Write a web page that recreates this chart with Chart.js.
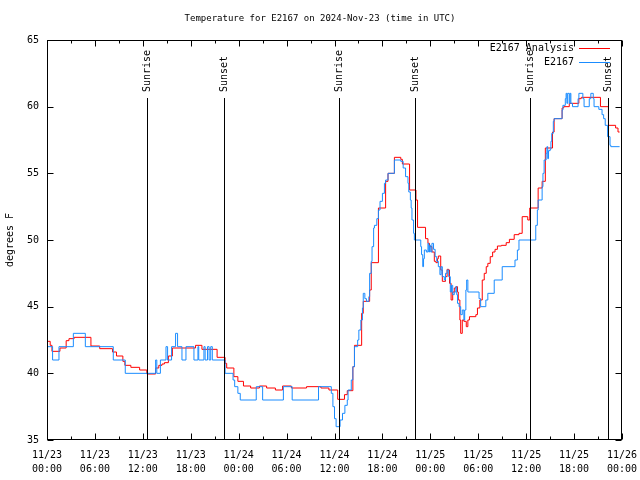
<!DOCTYPE html>
<html>
<head>
<meta charset="utf-8">
<title>Temperature for E2167</title>
<script src="https://cdn.jsdelivr.net/npm/chart.js@4.4.1/dist/chart.umd.min.js"></script>
<style>
  html, body { margin: 0; padding: 0; background: #fff; }
</style>
</head>
<body>
<canvas id="chart" width="640" height="480"></canvas>
<script>
// hours since 11/23 00:00 UTC and temperatures (F)
const analysisHours = [
  0, 0.4, 0.62, 1.62, 2.4, 2.75, 3.4, 5.5, 6.6, 8.2, 8.7, 9.5, 9.75, 10.5, 11.6, 12.5,
  13.6, 14.0, 14.4, 14.7, 15.2, 15.7, 18.6, 19.4, 21.3, 22.3, 22.5, 23.4, 23.9, 24.6, 25.5,
  26.6, 27.5, 28.6, 29.5, 30.6, 32.5, 34.3, 35.3, 36.4, 37.25, 37.6, 38.3, 38.5, 39.4, 39.6, 40.4, 40.6, 41.5, 42.4, 42.7,
  43.5, 44.3, 44.5, 45.4, 46.2, 46.4, 47.4, 47.7, 47.9, 48.2, 48.5, 48.7, 48.9, 49.0, 49.3, 49.5, 49.9, 50.1, 50.3, 50.4,
  50.6, 50.8, 51.0, 51.2, 51.4, 51.5, 51.7, 51.8, 52.0, 52.2, 52.5, 52.7, 52.9, 53.7, 53.9, 54.2, 54.5, 54.75, 55.0, 55.2,
  55.5, 55.8, 56.1, 56.4, 56.9, 57.5, 57.9, 58.5, 59.1, 59.5, 60.2, 60.45, 61.5, 62.0, 62.4, 63.3, 63.5, 64.5, 64.7, 65.4,
  66.6, 66.9, 69.3, 70.3, 71.2, 71.5, 71.7
];
const analysisTemps = [
  42.4, 42.1, 41.65, 41.9, 42.45, 42.6, 42.7, 42.05, 41.85, 41.6, 41.3, 40.9, 40.6, 40.45, 40.25, 39.95,
  40.4, 40.6, 40.7, 40.8, 41.3, 41.9, 42.1, 41.8, 41.2, 40.75, 40.4, 39.75, 39.4, 39.05, 38.9,
  39.05, 38.9, 38.75, 39.05, 38.9, 39.0, 38.9, 38.75, 38.05, 38.4, 38.7, 40.5, 42.1, 44.5, 45.4, 46.25, 48.3, 52.4, 54.4, 55.0,
  56.2, 56.05, 55.7, 53.75, 53.0, 50.95, 50.1, 49.75, 49.5, 49.1, 48.4, 48.3, 48.6, 48.8, 47.75, 46.9, 47.25, 47.8, 47.75, 46.75,
  45.5, 46.1, 46.4, 46.5, 46.1, 45.5, 44.0, 43.0, 44.0, 43.9, 43.5, 44.0, 44.25, 44.4, 44.9, 45.5, 47.0, 47.5, 48.0, 48.25,
  48.75, 49.1, 49.3, 49.55, 49.6, 49.8, 50.05, 50.4, 50.5, 51.75, 51.5, 52.4, 53.9, 54.4, 56.9, 58.1, 59.1, 59.9, 60.0, 60.25,
  60.6, 60.7, 60.0, 58.6, 58.4, 58.1, 58.1
];
const sensorHours = [
  0, 0.7, 1.5, 3.3, 4.8, 8.3, 9.8, 13.6, 13.75, 14.2, 14.9, 15.1, 15.6, 16.1, 16.35, 16.9, 17.4, 18.4, 18.9, 19.0,
  19.65, 19.8, 20.1, 20.3, 20.5, 20.7, 22.3, 23.3, 23.5, 23.9, 24.2, 26.2, 27.0, 29.6, 30.7, 34.0, 35.6, 35.8, 36.0, 36.2,
  36.7, 37.0, 37.3, 37.6, 37.7, 38.1, 38.3, 38.5, 38.9, 39.05, 39.3, 39.5, 39.6, 39.8, 40.0, 40.3, 40.4, 40.6, 40.7, 40.9,
  41.0, 41.3, 41.5, 41.7, 42.0, 42.25, 42.4, 42.7, 43.5, 44.3, 44.6, 44.9, 45.2, 45.3, 45.5, 45.6, 45.7, 45.9, 46.0, 46.8,
  46.9, 47.05, 47.15, 47.25, 47.5, 47.7, 47.8, 47.9, 48.05, 48.2, 48.4, 48.6, 48.8, 49.0, 49.2, 49.35, 49.5, 49.75, 49.9, 50.1,
  50.3, 50.5, 50.65, 50.8, 51.0, 51.2, 51.3, 51.4, 51.6, 51.8, 52.0, 52.2, 52.3, 52.45, 52.55, 52.7, 54.1, 54.3, 54.95, 55.2,
  56.0, 57.0, 58.6, 58.9, 59.1, 61.2, 61.4, 61.5, 62.0, 62.1, 62.25, 62.5, 62.6, 62.7, 62.8, 63.0, 63.1, 63.2, 63.4, 63.5,
  64.5, 64.6, 64.9, 65.0, 65.1, 65.2, 65.4, 65.5, 65.6, 65.8, 66.5, 66.6, 67.1, 67.25, 67.9, 68.1, 68.4, 68.5, 69.1, 69.5,
  69.7, 69.9, 70.2, 70.5, 70.6, 71.7
];
const sensorTemps = [
  42, 41, 42, 43, 42, 41, 40, 41, 40, 41, 42, 41, 42, 43, 42, 41, 42, 41, 42, 41,
  42, 41, 42, 41, 42, 41, 40, 39.5, 39, 38.5, 38, 39, 38, 39, 38, 39, 38.5, 37.5, 36.6, 36,
  36.5, 37, 37.6, 38, 38.75, 39.5, 40.5, 42, 42.5, 43.25, 44, 44.9, 46, 45.6, 45.4, 45.75, 47.5, 48.4, 49.5, 50.9,
  51.1, 51.6, 52.25, 52.9, 53.5, 54.25, 54.5, 55, 56, 55.9, 55.4, 54.75, 54.25, 53.6, 53, 52.4, 51.5, 50.5, 50, 49.5,
  48.9, 48, 48.6, 49.25, 49.1, 49.75, 49.1, 49.6, 49.1, 49.75, 49.3, 48.75, 48.4, 48, 47.4, 48, 47.25, 47, 47.5, 47.75,
  47.25, 46.1, 46.6, 45.9, 46.1, 46.5, 45.9, 45.25, 45, 44.4, 44.75, 44, 44.75, 46.25, 47, 46.1, 45.6, 45, 45.5, 46,
  47, 48, 48.5, 49.25, 50, 51.1, 52.25, 53, 54, 55, 56, 56.5, 57, 56.1, 56.7, 56.8, 57.4, 58, 58.9, 59.1,
  59.75, 60.1, 60.6, 61, 60.25, 61, 60.25, 61, 60.25, 60, 60.6, 61, 60.6, 60, 60.6, 61, 60.6, 60, 59.8, 59.4,
  59.1, 58.6, 57.75, 57.1, 57, 57
];

// axis ticks
const xTickHours = [0, 6, 12, 18, 24, 30, 36, 42, 48, 54, 60, 66, 72];
const xTickDates = ['11/23', '11/23', '11/23', '11/23', '11/24', '11/24', '11/24', '11/24', '11/25', '11/25', '11/25', '11/25', '11/26'];
const xTickTimes = ['00:00', '06:00', '12:00', '18:00', '00:00', '06:00', '12:00', '18:00', '00:00', '06:00', '12:00', '18:00', '00:00'];
const yTicks = [35, 40, 45, 50, 55, 60, 65];

// sunrise / sunset markers
const sunHours = [12.53, 22.18, 36.6, 46.1, 60.5, 70.2];
const sunLabels = ['Sunrise', 'Sunset', 'Sunrise', 'Sunset', 'Sunrise', 'Sunset'];

const titleText = 'Temperature for E2167 on 2024-Nov-23 (time in UTC)';
const monoFont = "'DejaVu Sans Mono', 'Liberation Mono', monospace";

function toPoints(hours, temps) {
  let pts = [];
  for (let i = 0; i < hours.length; i++) {
    pts.push({ x: hours[i], y: temps[i] });
  }
  return pts;
}

// frame, inward ticks, sun lines, legend and title like gnuplot
const gnuplotLook = {
  id: 'gnuplotLook',
  afterDraw(chart) {
    const ctx = chart.ctx;
    const a = chart.chartArea;
    const xs = chart.scales.x;
    const ys = chart.scales.y;
    const L = Math.round(a.left) + 0.5;
    const R = Math.round(a.right) - 0.5;
    const T = Math.round(a.top) + 0.5;
    const B = Math.round(a.bottom) - 0.5;
    ctx.save();
    ctx.strokeStyle = '#000';
    ctx.lineWidth = 1;
    ctx.beginPath();
    yTicks.forEach(function (v) {
      const y = Math.round(ys.getPixelForValue(v)) + 0.5;
      ctx.moveTo(L, y); ctx.lineTo(L + 6, y);
      ctx.moveTo(R, y); ctx.lineTo(R - 6, y);
    });
    for (let i = 0; i < xTickHours.length; i++) {
      let x = Math.round(xs.getPixelForValue(xTickHours[i])) + 0.5;
      ctx.moveTo(x, B); ctx.lineTo(x, B - 6);
      ctx.moveTo(x, T); ctx.lineTo(x, T + 6);
      if (i < xTickHours.length - 1) {
        // minor tick halfway
        x = Math.round(xs.getPixelForValue((xTickHours[i] + xTickHours[i + 1]) / 2)) + 0.5;
        ctx.moveTo(x, B); ctx.lineTo(x, B - 3);
        ctx.moveTo(x, T); ctx.lineTo(x, T + 3);
      }
    }
    ctx.stroke();
    ctx.strokeRect(L, T, R - L, B - T);

    // sunrise / sunset lines
    ctx.fillStyle = '#000';
    ctx.font = '10px ' + monoFont;
    const lineTop = a.bottom - 0.855 * (a.bottom - a.top);
    const textStart = a.bottom - 0.87 * (a.bottom - a.top);
    ctx.beginPath();
    for (let i = 0; i < sunHours.length; i++) {
      const x = Math.round(xs.getPixelForValue(sunHours[i])) + 0.5;
      ctx.moveTo(x, lineTop);
      ctx.lineTo(x, B);
    }
    ctx.stroke();
    for (let i = 0; i < sunHours.length; i++) {
      const x = Math.round(xs.getPixelForValue(sunHours[i])) + 0.5;
      ctx.save();
      ctx.translate(x, textStart);
      ctx.rotate(-Math.PI / 2);
      ctx.textAlign = 'left';
      ctx.textBaseline = 'middle';
      ctx.fillText(sunLabels[i], 0, 0);
      ctx.restore();
    }

    // legend, text left of the sample line
    ctx.textAlign = 'right';
    ctx.textBaseline = 'middle';
    chart.data.datasets.forEach(function (ds, i) {
      const y = Math.round(a.top + 8 + i * 14) + 0.5;
      ctx.fillStyle = '#000';
      ctx.fillText(ds.label, a.right - 48, y);
      ctx.strokeStyle = ds.borderColor;
      ctx.beginPath();
      ctx.moveTo(a.right - 43, y);
      ctx.lineTo(a.right - 12, y);
      ctx.stroke();
    });

    // title (a bit smaller than the other text)
    ctx.fillStyle = '#000';
    ctx.textAlign = 'center';
    ctx.font = '9px ' + monoFont;
    ctx.fillText(titleText, chart.width / 2, 19);
    ctx.restore();
  }
};

Chart.defaults.font.family = monoFont;
Chart.defaults.font.size = 10;
Chart.defaults.color = '#000';

new Chart(document.getElementById('chart').getContext('2d'), {
  type: 'line',
  data: {
    datasets: [{
      label: 'E2167 Analysis',
      data: toPoints(analysisHours, analysisTemps),
      borderColor: '#ff0000',
      borderWidth: 1,
      pointRadius: 0,
      stepped: true,
      order: 2
    }, {
      label: 'E2167',
      data: toPoints(sensorHours, sensorTemps),
      borderColor: '#1a8cff',
      borderWidth: 1,
      pointRadius: 0,
      stepped: true,
      order: 1
    }]
  },
  options: {
    responsive: false,
    animation: false,
    layout: { padding: { top: 40, right: 18, left: 0, bottom: 0 } },
    plugins: {
      legend: { display: false },
      title: { display: false },
      tooltip: { enabled: false }
    },
    scales: {
      x: {
        type: 'linear',
        min: 0,
        max: 72,
        afterBuildTicks: function (scale) {
          scale.ticks = xTickHours.map(function (h) { return { value: h }; });
        },
        ticks: {
          autoSkip: false,
          maxRotation: 0,
          padding: 0,
          font: { lineHeight: 1.4 },
          callback: function (value, index) {
            return [xTickDates[index], xTickTimes[index]];
          }
        },
        grid: { display: false },
        border: { display: false },
        afterFit: function (scale) {
          scale.height = 40;
          scale.paddingLeft = 0;
          scale.paddingRight = 0;
        }
      },
      y: {
        min: 35,
        max: 65,
        afterBuildTicks: function (scale) {
          scale.ticks = yTicks.map(function (v) { return { value: v }; });
        },
        ticks: { padding: 0 },
        title: { display: true, text: 'degrees F', padding: { top: 4, bottom: 0 } },
        grid: { display: false },
        border: { display: false },
        afterFit: function (scale) {
          scale.width = 47;
        }
      }
    }
  },
  plugins: [gnuplotLook]
});
</script>
</body>
</html>
